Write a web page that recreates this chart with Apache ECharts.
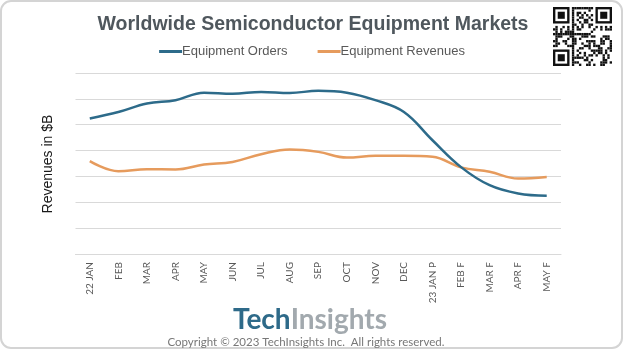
<!DOCTYPE html>
<html>
<head>
<meta charset="utf-8">
<script src="https://cdn.jsdelivr.net/npm/echarts@6/dist/echarts.min.js"></script>
<style>html,body{margin:0;padding:0;background:#fff;}#c{width:624px;height:352px;}</style>
</head>
<body>
<div id="c"></div>
<script>
const categories = ['22 JAN','FEB','MAR','APR','MAY','JUN','JUL','AUG','SEP','OCT','NOV','DEC','23 JAN P','FEB F','MAR F','APR F','MAY F'];
const equipmentOrders = [5.24,5.49,5.82,5.95,6.24,6.2,6.27,6.23,6.31,6.24,5.95,5.49,4.4,3.36,2.66,2.34,2.25];
const equipmentRevenues = [3.59,3.2,3.28,3.27,3.46,3.56,3.86,4.04,3.95,3.73,3.8,3.8,3.76,3.35,3.18,2.92,2.98];
const seriesNames = ['Equipment Orders','Equipment Revenues'];

const chart = echarts.init(document.getElementById('c'), null, {renderer:'canvas'});

// decorative QR-like block
const qr = [];
const N = 25, qx = 553, qy = 7, m = 2.36;
function finder(ox, oy){
  qr.push({type:'rect',silent:true,shape:{x:qx+ox*m,y:qy+oy*m,width:7*m,height:7*m},style:{fill:'#111'}});
  qr.push({type:'rect',silent:true,shape:{x:qx+(ox+1)*m,y:qy+(oy+1)*m,width:5*m,height:5*m},style:{fill:'#fff'}});
  qr.push({type:'rect',silent:true,shape:{x:qx+(ox+2)*m,y:qy+(oy+2)*m,width:3*m,height:3*m},style:{fill:'#111'}});
}
for (let i=0;i<N;i++){
  for (let j=0;j<N;j++){
    const inF = (i<8&&j<8)||(i<8&&j>=N-8)||(i>=N-8&&j<8);
    if (inF) continue;
    const h = (i*131 + j*71 + i*j*17 + (i^j)*13) % 7;
    if (h < 3) qr.push({type:'rect',silent:true,shape:{x:qx+j*m,y:qy+i*m,width:m,height:m},style:{fill:'#111'}});
  }
}
finder(0,0); finder(N-7,0); finder(0,N-7);

chart.setOption({
  animation:false,
  title:{
    text:'Worldwide Semiconductor Equipment Markets',
    left:308, top:10, textAlign:'center',
    textStyle:{fontFamily:'Liberation Sans',fontSize:19.5,fontWeight:'bold',color:'#4f575d'}
  },
  legend:{
    data:seriesNames, left:'center', top:40, itemWidth:23, itemHeight:3, itemGap:30,
    icon:'rect',
    textStyle:{fontFamily:'Liberation Sans',fontSize:13,color:'#595959',padding:[0,0,0,-5]}
  },
  grid:{left:75.5, right:63, top:73, bottom:98},
  xAxis:{
    type:'category', data:categories, boundaryGap:true,
    axisLine:{lineStyle:{color:'#d9d9d9',width:1}},
    axisTick:{show:false},
    axisLabel:{rotate:90, margin:8, fontFamily:'Lato', fontSize:10, color:'#595959', interval:0}
  },
  yAxis:{
    type:'value', min:0, max:7, interval:1,
    axisLabel:{show:false}, axisLine:{show:false}, axisTick:{show:false},
    splitLine:{lineStyle:{color:'#d9d9d9',width:1}}
  },
  series:[
    {name:seriesNames[0], type:'line', data:equipmentOrders, smooth:0.4, symbol:'none',
     lineStyle:{color:'#2d6b8a',width:2.5}, itemStyle:{color:'#2d6b8a'}, z:3},
    {name:seriesNames[1], type:'line', data:equipmentRevenues, smooth:0.4, symbol:'none',
     lineStyle:{color:'#e69b5d',width:2.5}, itemStyle:{color:'#e69b5d'}, z:2}
  ],
  graphic:[
    {type:'rect', silent:true, z:-10, shape:{x:1,y:1,width:621,height:347,r:10},
     style:{fill:'none',stroke:'#d4d4d4',lineWidth:2}},
    {type:'text', silent:true, x:48, y:164, rotation:Math.PI/2,
     style:{text:'Revenues in $B', fontFamily:'Liberation Sans', fontSize:14, fill:'#1a1a1a', textAlign:'center', textVerticalAlign:'middle'}},
    {type:'text', silent:true, x:310, y:320,
     style:{text:'{a|Tech}{b|Insights}', textAlign:'center', textVerticalAlign:'middle',
       rich:{a:{fontFamily:'Lato',fontWeight:'bold',fontSize:28,fill:'#2e6a89'},
             b:{fontFamily:'Lato',fontWeight:'bold',fontSize:28,fill:'#a2a9ae'}}}},
    {type:'text', silent:true, x:306, y:342,
     style:{text:'Copyright © 2023 TechInsights Inc.  All rights reserved.', fontFamily:'Lato', fontSize:11.5, fill:'#777', textAlign:'center', textVerticalAlign:'middle'}},
    {type:'group', children:qr}
  ]
});
</script>
</body>
</html>
